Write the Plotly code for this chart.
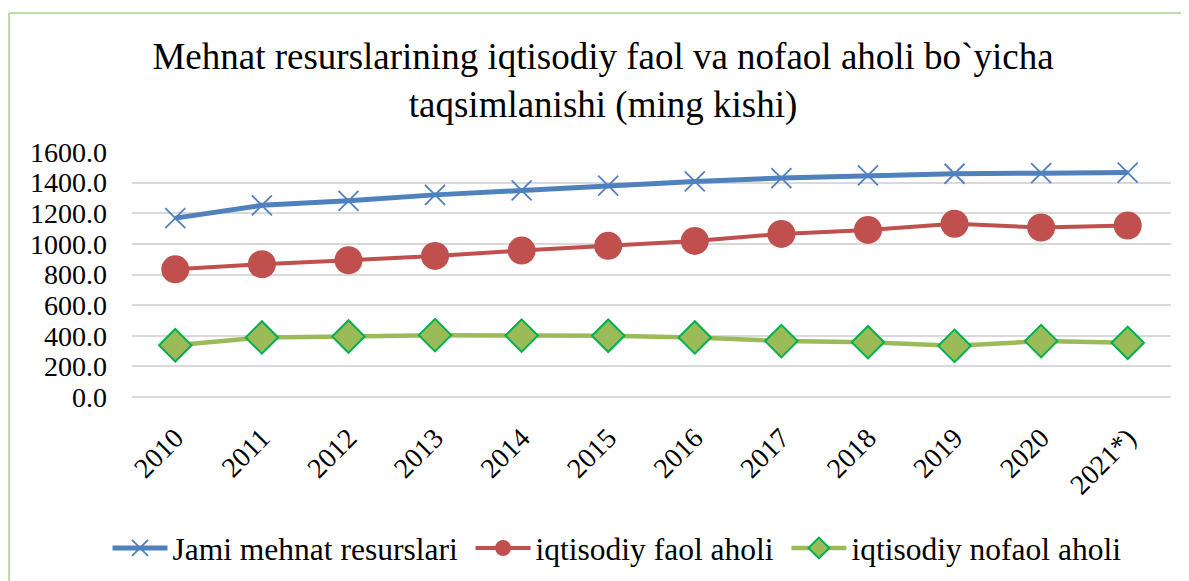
import plotly.graph_objects as go

years = ["2010", "2011", "2012", "2013", "2014", "2015", "2016", "2017", "2018", "2019", "2020", "2021*)"]
jami = [1168, 1252, 1281, 1320, 1349, 1381, 1408, 1430, 1447, 1458, 1462, 1466]
faol = [834, 867, 893, 921, 956, 987, 1019, 1065, 1091, 1131, 1107, 1120]
nofaol = [338, 389, 395, 404, 401, 400, 389, 365, 358, 334, 365, 354]

names = ["Jami mehnat resurslari", "iqtisodiy faol aholi", "iqtisodiy nofaol aholi"]
title_text = "Mehnat resurslarining iqtisodiy faol va nofaol aholi bo`yicha<br>taqsimlanishi (ming kishi)"

FONT = "Liberation Serif, Times New Roman, serif"
GAP = "\u00a0"

fig = go.Figure()
fig.add_trace(go.Scatter(
    x=years, y=jami, name=names[0] + GAP, mode="lines+markers",
    line=dict(color="#4f81bd", width=5),
    marker=dict(symbol="x-thin-open", size=20, line=dict(color="#4f81bd", width=1.8), color="#4f81bd"),
))
fig.add_trace(go.Scatter(
    x=years, y=faol, name=names[1] + GAP, mode="lines+markers",
    line=dict(color="#c0504d", width=4),
    marker=dict(symbol="circle", size=28, color="#c0504d", line=dict(width=0)),
))
fig.add_trace(go.Scatter(
    x=years, y=nofaol, name=names[2], mode="lines+markers",
    line=dict(color="#9bbb59", width=4.5),
    marker=dict(symbol="diamond", size=25, color="#9bbb59", line=dict(color="#00b050", width=2)),
))

# page body has an 8px offset; figure coordinates below are reference minus 8
W, H = 1181, 573
L, T = 124, 144
R = W - 1163
B = H - 389
pw, ph = W - L - R, H - T - B
bx = (1 - L) / pw
by = (H - B - 5) / ph

fig.update_layout(
    width=W, height=H,
    margin=dict(l=L, r=R, t=T, b=B, autoexpand=False),
    paper_bgcolor="white", plot_bgcolor="white",
    font=dict(family=FONT, color="black", size=28),
    title=dict(text=title_text, x=595 / W, xanchor="center", xref="container",
               y=1 - 61 / H, yanchor="top", yref="container",
               font=dict(family=FONT, size=37, color="black")),
    xaxis=dict(type="category", showgrid=False, showline=False, ticks="",
               tickangle=-45, tickfont=dict(family=FONT, size=28),
               ticklabelstandoff=18, range=[-0.5, 11.5]),
    yaxis=dict(range=[0, 1600], dtick=200, tickformat=".1f", showgrid=True,
               gridcolor="#d9d9d9", gridwidth=1.5, zeroline=True, zerolinecolor="#d9d9d9",
               zerolinewidth=1.5, showline=False, ticks="", ticklabelstandoff=24,
               tickfont=dict(family=FONT, size=28)),
    legend=dict(orientation="h", x=609 / W, xanchor="center", xref="container",
                y=1 - 540 / H, yanchor="middle", yref="container",
                font=dict(family=FONT, size=31.5), itemwidth=55,
                bgcolor="rgba(0,0,0,0)", traceorder="normal"),
    showlegend=True,
    shapes=[
        dict(type="line", xref="paper", yref="paper", x0=bx, x1=bx, y0=-2, y1=by,
             line=dict(color="#a9d18e", width=1.5)),
        dict(type="line", xref="paper", yref="paper", x0=bx, x1=1.2, y0=by, y1=by,
             line=dict(color="#a9d18e", width=1.5)),
    ],
)

fig.write_html("out.html")
